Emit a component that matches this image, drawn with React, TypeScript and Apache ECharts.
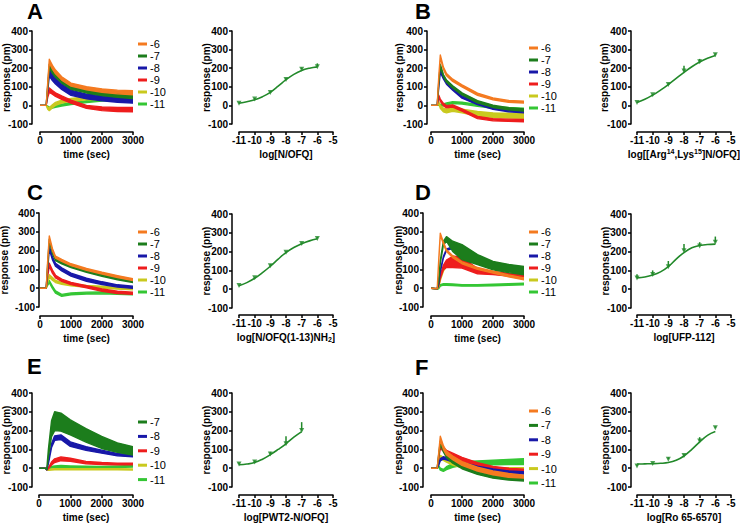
import React, { useEffect, useRef } from "react";
import * as echarts from "echarts";

// ---------- shared data ----------
const TIME = [0, 200, 250, 300, 400, 500, 700, 1000, 1500, 2000, 2500, 3000];
const CONCS = ["-6", "-7", "-8", "-9", "-10", "-11"];
const CONCS_E = ["-7", "-8", "-9", "-10", "-11"];
const LOG_X = [-11, -10, -9, -8, -7, -6];
const LOG_X_E = [-11, -10, -9, -8, -7];
const FIT_X = [-11, -10.5, -10, -9.5, -9, -8.5, -8, -7.5, -7, -6.5, -6];
const FIT_X_E = [-11, -10.5, -10, -9.5, -9, -8.5, -8, -7.5, -7];

// ---------- panel A ----------
const A_MEAN = [
  [0, 0, 120, 238, 205, 180, 145, 112, 92, 80, 72, 68],
  [0, 0, 105, 212, 182, 160, 128, 95, 75, 62, 54, 48],
  [0, 0, 90, 175, 150, 130, 100, 68, 48, 38, 30, 25],
  [0, 0, 50, 82, 70, 58, 42, 20, -8, -18, -22, -23],
  [0, 0, -15, -20, -5, 8, 20, 30, 38, 40, 40, 40],
  [0, 0, -8, -15, -10, -5, 2, 10, 20, 28, 32, 35],
];
const A_HALF = [
  [0, 0, 6, 10, 10, 10, 9, 8, 8, 9, 10, 11],
  [0, 0, 6, 10, 10, 9, 8, 8, 8, 9, 10, 11],
  [0, 0, 8, 18, 16, 15, 14, 14, 13, 13, 13, 13],
  [0, 0, 6, 12, 10, 10, 9, 8, 8, 10, 11, 12],
  [0, 0, 6, 8, 8, 8, 8, 8, 8, 8, 8, 8],
  [0, 0, 4, 5, 5, 5, 5, 5, 5, 5, 5, 5],
];
const A_PTS = [12, 34, 70, 139, 195, 208];
const A_ERR = [5, 6, 8, 10, 8, 18];
const A_FIT = [12, 20, 30, 47, 70, 103, 138, 167, 188, 200, 207];

// ---------- panel B ----------
const B_MEAN = [
  [0, 0, 150, 265, 200, 165, 135, 105, 60, 35, 22, 18],
  [0, 0, 120, 215, 160, 130, 100, 62, 20, -5, -18, -25],
  [0, 0, 100, 185, 148, 120, 88, 45, 10, -15, -28, -34],
  [0, 0, 50, 28, 5, -7, -3, -25, -65, -77, -80, -82],
  [0, 0, 15, -8, -25, -30, -22, -30, -45, -52, -55, -56],
  [0, 0, 5, 0, 3, 8, 15, 12, 0, -10, -16, -20],
];
const B_HALF = [
  [0, 0, 5, 6, 6, 6, 6, 6, 6, 5, 5, 5],
  [0, 0, 5, 6, 6, 6, 6, 6, 6, 6, 6, 6],
  [0, 0, 5, 6, 6, 6, 6, 6, 6, 6, 6, 6],
  [0, 0, 5, 6, 6, 6, 6, 6, 6, 6, 6, 6],
  [0, 0, 5, 8, 10, 10, 10, 10, 12, 12, 13, 13],
  [0, 0, 4, 5, 5, 5, 5, 5, 5, 5, 5, 5],
];
const B_PTS = [15, 57, 113, 185, 235, 272];
const B_ERR = [5, 5, 8, 28, 15, 8];
const B_FIT = [15, 33, 55, 82, 112, 145, 178, 208, 233, 253, 268];

// ---------- panel C ----------
const C_MEAN = [
  [0, 0, 150, 272, 205, 165, 148, 125, 100, 80, 62, 45],
  [0, 0, 130, 255, 190, 152, 135, 115, 90, 68, 50, 35],
  [0, 0, 110, 215, 160, 125, 100, 72, 45, 27, 12, 5],
  [0, 0, 70, 125, 88, 62, 42, 25, 8, -10, -22, -27],
  [0, 0, 35, 65, 50, 36, 26, 18, 10, 5, 0, -3],
  [0, 0, 20, 35, 5, -20, -38, -30, -26, -25, -27, -30],
];
const C_HALF = [
  [0, 0, 5, 6, 6, 5, 5, 5, 5, 5, 5, 5],
  [0, 0, 5, 5, 5, 5, 5, 5, 5, 5, 5, 5],
  [0, 0, 5, 8, 8, 8, 8, 8, 8, 7, 6, 6],
  [0, 0, 5, 8, 8, 7, 6, 6, 6, 6, 6, 6],
  [0, 0, 4, 7, 7, 6, 5, 5, 5, 5, 5, 5],
  [0, 0, 4, 6, 6, 6, 5, 5, 5, 5, 5, 5],
];
const C_PTS = [20, 61, 125, 197, 243, 270];
const C_ERR = [5, 5, 8, 6, 6, 8];
const C_FIT = [18, 35, 58, 88, 122, 160, 195, 222, 242, 257, 268];

// ---------- panel D ----------
const D_MEAN = [
  [0, -3, 150, 288, 240, 200, 168, 135, 105, 85, 65, 50],
  [0, -3, 40, 140, 240, 262, 223, 192, 152, 120, 105, 93],
  [0, -3, 25, 90, 165, 205, 215, 185, 150, 120, 100, 85],
  [0, -3, 15, 60, 110, 130, 140, 137, 90, 80, 72, 68],
  [0, -3, 10, 45, 95, 120, 135, 125, 100, 85, 72, 60],
  [0, -5, 0, 15, 20, 20, 18, 15, 15, 17, 20, 22],
];
const D_HALF = [
  [0, 0, 4, 5, 5, 5, 5, 5, 5, 5, 5, 5],
  [0, 0, 4, 8, 10, 12, 27, 40, 27, 22, 22, 22],
  [0, 0, 4, 4, 4, 4, 4, 4, 4, 4, 4, 4],
  [0, 0, 4, 8, 12, 20, 30, 30, 13, 8, 8, 8],
  [0, 0, 4, 4, 4, 4, 4, 4, 4, 4, 4, 4],
  [0, 0, 3, 4, 4, 4, 4, 4, 4, 4, 4, 4],
];
const D_PTS = [60, 78, 120, 205, 230, 250];
const D_ERR = [20, 22, 30, 35, 20, 30];
const D_FIT = [60, 65, 75, 92, 120, 160, 195, 220, 232, 238, 240];

// ---------- panel E (no -6) ----------
const E_MEAN = [
  [0, 0, -5, 80, 210, 250, 245, 217, 175, 137, 110, 92],
  [0, 0, -5, 30, 120, 160, 165, 128, 105, 88, 72, 65],
  [0, 0, -8, 0, 25, 40, 50, 45, 30, 25, 22, 22],
  [0, 0, -5, -8, -7, -6, -5, -5, -5, -5, -6, -7],
  [0, 0, -3, 0, 5, 8, 10, 8, 6, 5, 8, 10],
];
const E_HALF = [
  [0, 0, 3, 20, 42, 50, 48, 40, 36, 32, 25, 22],
  [0, 0, 3, 5, 10, 12, 12, 12, 10, 8, 6, 5],
  [0, 0, 2, 3, 8, 10, 10, 8, 6, 5, 4, 4],
  [0, 0, 3, 3, 3, 3, 3, 3, 3, 3, 3, 3],
  [0, 0, 3, 4, 4, 4, 4, 4, 4, 4, 4, 4],
];
const E_PTS = [22, 33, 75, 130, 200];
const E_ERR = [8, 8, 12, 40, 45];
const E_FIT = [18, 22, 30, 48, 72, 100, 130, 165, 195];

// ---------- panel F ----------
const F_MEAN = [
  [0, 0, 80, 160, 110, 80, 55, 25, -5, -25, -38, -45],
  [0, 0, 70, 135, 95, 65, 35, 5, -25, -45, -55, -60],
  [0, 0, 20, 45, 55, 50, 40, 25, 5, -10, -20, -25],
  [0, 0, 60, 115, 100, 85, 70, 48, 20, 0, -10, -15],
  [0, 0, 30, 60, 50, 40, 25, 10, 0, -5, -5, -5],
  [0, 0, 10, -5, -12, 0, 15, 25, 28, 30, 33, 35],
];
const F_HALF = [
  [0, 0, 5, 10, 10, 10, 10, 10, 10, 10, 10, 8],
  [0, 0, 5, 8, 8, 8, 8, 8, 8, 8, 8, 8],
  [0, 0, 4, 6, 6, 6, 6, 6, 6, 6, 6, 6],
  [0, 0, 6, 10, 10, 10, 10, 10, 10, 10, 10, 10],
  [0, 0, 5, 8, 8, 8, 8, 8, 8, 8, 8, 8],
  [0, 0, 3, 5, 5, 8, 10, 10, 10, 12, 14, 15],
];
const F_PTS = [12, 25, 48, 68, 145, 215];
const F_ERR = [8, 5, 10, 8, 20, 8];
const F_FIT = [22, 23, 24, 26, 30, 42, 65, 100, 140, 175, 195];

// ---------- x-axis titles ----------
const CR_TITLES = [
  "log[N/OFQ]",
  "log[[Arg{sup|14},Lys{sup|15}]N/OFQ]",
  "log[N/OFQ(1-13)NH{sub|2}]",
  "log[UFP-112]",
  "log[PWT2-N/OFQ]",
  "log[Ro 65-6570]",
];

const COLORS: Record<string, string> = {
  "-6": "#F47A20",
  "-7": "#1C7D1C",
  "-8": "#1818A8",
  "-9": "#EE1D1D",
  "-10": "#C9C91E",
  "-11": "#34C634",
};
const CR_COLOR = "#22892A";
const FONT = '"Liberation Sans", Arial, Helvetica, sans-serif';

// ---------- layout (positions only) ----------
const TIME_LAYOUT = [
  { key: "A", left: 40, top: 31, w: 93, h: 93, yOff: 8, xOff: 8, yGap: 21, lg: [138, 38.5], lgGap: 1, letter: [27, 0] },
  { key: "B", left: 431, top: 31, w: 93, h: 93, yOff: 4, xOff: 8, yGap: 23, lg: [529, 42.5], lgGap: 1, letter: [415, 0] },
  { key: "C", left: 40, top: 213, w: 93, h: 94, yOff: 1, xOff: 9, yGap: 30, lg: [138, 226.5], lgGap: 1, letter: [27, 181] },
  { key: "D", left: 431, top: 213, w: 93, h: 94, yOff: 8, xOff: 9, yGap: 19.5, lg: [529, 226.5], lgGap: 1, letter: [415, 181] },
  { key: "E", left: 39, top: 393, w: 94, h: 94, yOff: 7, xOff: 8, yGap: 21, lg: [138, 416.5], lgGap: 3.4, letter: [27, 355] },
  { key: "F", left: 431, top: 393, w: 93, h: 94, yOff: 8, xOff: 8, yGap: 19.5, lg: [529, 405.5], lgGap: 3.4, letter: [415, 356] },
];
const CR_LAYOUT = [
  { left: 239, top: 31, w: 94, h: 93, yOff: 7, xOff: 8, yGap: 21 },
  { left: 637, top: 31, w: 94, h: 93, yOff: 6, xOff: 8, yGap: 22 },
  { left: 239, top: 214, w: 94, h: 94, yOff: 7, xOff: 7, yGap: 21 },
  { left: 637, top: 214, w: 94, h: 94, yOff: 6, xOff: 7, yGap: 21 },
  { left: 239, top: 393, w: 94, h: 94, yOff: 7, xOff: 8, yGap: 21 },
  { left: 637, top: 393, w: 94, h: 94, yOff: 6, xOff: 8, yGap: 21 },
];

const TIME_DATA = [
  { mean: A_MEAN, half: A_HALF, names: CONCS },
  { mean: B_MEAN, half: B_HALF, names: CONCS },
  { mean: C_MEAN, half: C_HALF, names: CONCS },
  { mean: D_MEAN, half: D_HALF, names: CONCS },
  { mean: E_MEAN, half: E_HALF, names: CONCS_E },
  { mean: F_MEAN, half: F_HALF, names: CONCS },
];
const CR_DATA = [
  { x: LOG_X, pts: A_PTS, err: A_ERR, fx: FIT_X, fit: A_FIT },
  { x: LOG_X, pts: B_PTS, err: B_ERR, fx: FIT_X, fit: B_FIT },
  { x: LOG_X, pts: C_PTS, err: C_ERR, fx: FIT_X, fit: C_FIT },
  { x: LOG_X, pts: D_PTS, err: D_ERR, fx: FIT_X, fit: D_FIT },
  { x: LOG_X_E, pts: E_PTS, err: E_ERR, fx: FIT_X_E, fit: E_FIT },
  { x: LOG_X, pts: F_PTS, err: F_ERR, fx: FIT_X, fit: F_FIT },
];

const labelStyle = { fontSize: 10, fontWeight: "bold" as const, color: "#000", fontFamily: FONT };
const nameStyle = {
  fontSize: 10,
  fontWeight: "bold" as const,
  color: "#000",
  fontFamily: FONT,
  lineHeight: 12,
  rich: {
    sup: { fontSize: 7, fontWeight: "bold", color: "#000", fontFamily: FONT, padding: [0, 0, 6, 0] },
    sub: { fontSize: 7, fontWeight: "bold", color: "#000", fontFamily: FONT, padding: [5, 0, 0, 0] },
  },
};
const yNameStyle = { fontSize: 10, fontWeight: "bold" as const, color: "#000", fontFamily: FONT, lineHeight: 10 };
const axisLine = { show: true, onZero: false, lineStyle: { color: "#000", width: 1.5 } };
const axisTick = { show: true, length: 3, lineStyle: { color: "#000", width: 1.5 } };

// band renderer: one polygon per series, drawn when the first item is rendered
function bandRenderer(color: string) {
  return (params: any, api: any) => {
    if (params.dataIndexInside !== 0) return null;
    const n = params.dataInsideLength;
    const upper: number[][] = [];
    const lower: number[][] = [];
    for (let i = 0; i < n; i++) {
      const t = api.value(0, i);
      upper.push(api.coord([t, api.value(2, i)]));
      lower.push(api.coord([t, api.value(1, i)]));
    }
    const pts = upper.concat(lower.reverse());
    return {
      type: "polygon",
      shape: { points: pts },
      style: { fill: color, stroke: color, lineWidth: 1.4, lineJoin: "round" },
    };
  };
}

function buildOption() {
  const grid: any[] = [];
  const xAxis: any[] = [];
  const yAxis: any[] = [];
  const series: any[] = [];
  const legend: any[] = [];
  const graphic: any[] = [];

  const yAx = (gi: number, off: number, gap: number) => ({
    type: "value",
    gridIndex: gi,
    min: -100,
    max: 400,
    interval: 100,
    offset: off,
    axisLine,
    axisTick,
    axisLabel: { ...labelStyle, margin: 4 },
    splitLine: { show: false },
    name: "response (pm)",
    nameLocation: "middle",
    nameGap: gap,
    nameMoveOverlap: false,
    nameTextStyle: yNameStyle,
  });

  TIME_LAYOUT.forEach((L, p) => {
    const gi = grid.length;
    grid.push({ left: L.left, top: L.top, width: L.w, height: L.h, outerBoundsMode: "none" });
    xAxis.push({
      type: "value",
      gridIndex: gi,
      min: 0,
      max: 3000,
      interval: 1000,
      offset: L.xOff,
      axisLine,
      axisTick,
      axisLabel: { ...labelStyle, margin: 3, hideOverlap: false, formatter: (v: number) => String(v) },
      splitLine: { show: false },
      name: "time (sec)",
      nameLocation: "middle",
      nameGap: 16,
      nameMoveOverlap: false,
      nameTextStyle: nameStyle,
    });
    yAxis.push(yAx(gi, L.yOff, L.yGap));
    const D = TIME_DATA[p];
    for (let i = D.names.length - 1; i >= 0; i--) {
      const c = D.names[i];
      const col = COLORS[c];
      series.push({
        type: "custom",
        name: c,
        xAxisIndex: gi,
        yAxisIndex: gi,
        data: TIME.map((t, k) => [t, D.mean[i][k] - D.half[i][k], D.mean[i][k] + D.half[i][k]]),
        encode: { x: 0, y: [1, 2] },
        renderItem: bandRenderer(col),
        itemStyle: { color: col },
        clip: true,
        silent: true,
      });
    }
    legend.push({
      data: D.names,
      left: L.lg[0],
      top: L.lg[1],
      orient: "vertical",
      icon: "rect",
      itemWidth: 9,
      itemHeight: 3,
      itemGap: L.lgGap,
      padding: 0,
      selectedMode: false,
      textStyle: { fontSize: 11, lineHeight: 11, color: "#000", fontFamily: FONT, padding: [0, 0, 0, -2] },
    });
    graphic.push({
      type: "text",
      x: L.letter[0],
      y: L.letter[1],
      style: { text: L.key, font: `bold 22px ${FONT}`, fill: "#000", textVerticalAlign: "top" },
    });
  });

  CR_LAYOUT.forEach((L, p) => {
    const gi = grid.length;
    grid.push({ left: L.left, top: L.top, width: L.w, height: L.h, outerBoundsMode: "none" });
    xAxis.push({
      type: "value",
      gridIndex: gi,
      min: -11,
      max: -5,
      interval: 1,
      offset: L.xOff,
      axisLine,
      axisTick,
      axisLabel: { ...labelStyle, margin: 3, hideOverlap: false },
      splitLine: { show: false },
      name: CR_TITLES[p],
      nameLocation: "middle",
      nameGap: 16,
      nameMoveOverlap: false,
      nameTextStyle: nameStyle,
    });
    yAxis.push(yAx(gi, L.yOff, L.yGap));
    const D = CR_DATA[p];
    series.push({
      type: "line",
      name: "fit" + p,
      xAxisIndex: gi,
      yAxisIndex: gi,
      data: D.fx.map((x, k) => [x, D.fit[k]]),
      smooth: 0.4,
      symbol: "none",
      lineStyle: { color: CR_COLOR, width: 1.6 },
      itemStyle: { color: CR_COLOR },
      silent: true,
    });
    series.push({
      type: "custom",
      name: "err" + p,
      xAxisIndex: gi,
      yAxisIndex: gi,
      data: D.x.map((x, k) => [x, D.pts[k], D.pts[k] + D.err[k]]),
      encode: { x: 0, y: [1, 2] },
      silent: true,
      renderItem: (params: any, api: any) => {
        const a = api.coord([api.value(0), api.value(1)]);
        const b = api.coord([api.value(0), api.value(2)]);
        return {
          type: "line",
          shape: { x1: a[0], y1: a[1], x2: b[0], y2: b[1] },
          style: { stroke: CR_COLOR, lineWidth: 1.5 },
        };
      },
    });
    series.push({
      type: "scatter",
      name: "pts" + p,
      xAxisIndex: gi,
      yAxisIndex: gi,
      data: D.x.map((x, k) => [x, D.pts[k]]),
      symbol: "triangle",
      symbolRotate: 180,
      symbolSize: 5,
      itemStyle: { color: CR_COLOR },
      silent: true,
    });
  });

  return {
    animation: false,
    backgroundColor: "#fff",
    textStyle: { fontFamily: FONT },
    grid,
    xAxis,
    yAxis,
    series,
    legend,
    graphic,
    tooltip: { show: false },
  };
}

export default function App() {
  const ref = useRef<HTMLDivElement>(null);
  useEffect(() => {
    if (!ref.current) return;
    const chart = echarts.init(ref.current, undefined, { renderer: "svg" });
    chart.setOption(buildOption() as any);
    return () => chart.dispose();
  }, []);
  return (
    <div
      ref={ref}
      style={{ position: "absolute", left: 0, top: 0, width: 740, height: 524, background: "#fff" }}
    />
  );
}
